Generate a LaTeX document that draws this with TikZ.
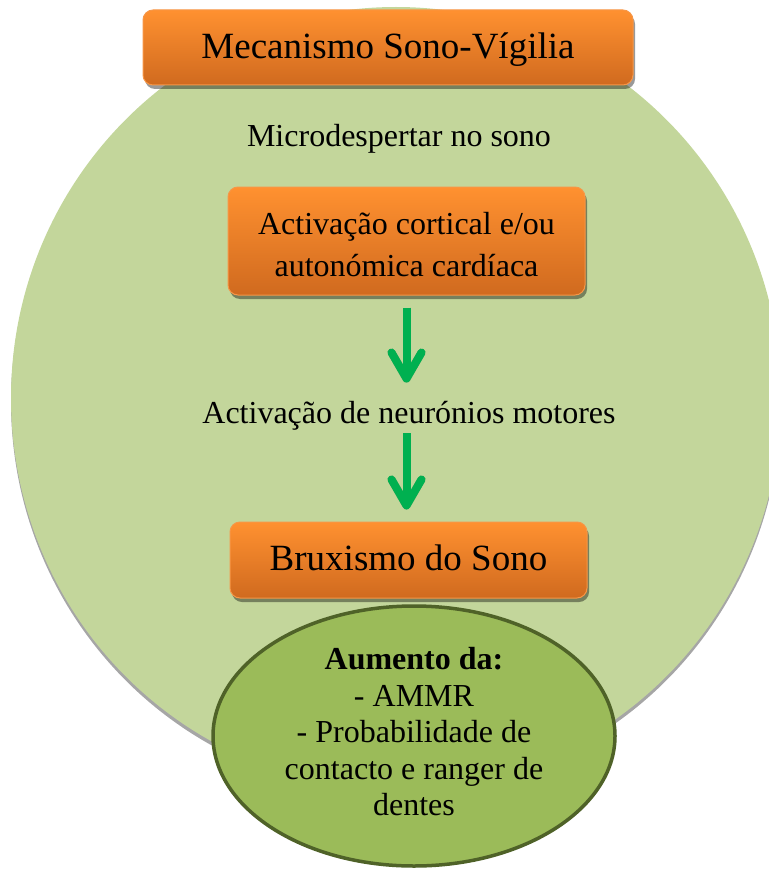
\documentclass[tikz,border=0pt]{standalone}
\usepackage{fontspec}
\setmainfont{Liberation Serif}
\usetikzlibrary{shapes.geometric,arrows.meta,shadows}
\definecolor{bgg}{HTML}{C3D69B}
\definecolor{ellf}{HTML}{9BBB59}
\definecolor{elld}{HTML}{4F6228}
\definecolor{otop}{RGB}{255,145,48}
\definecolor{obot}{RGB}{208,106,31}
\definecolor{oline}{HTML}{F79646}
\definecolor{arg}{HTML}{00B050}
\begin{document}
\begin{tikzpicture}[x=1pt,y=-1pt,
  obox/.style={draw=oline, line width=1pt, rounded corners=10pt, top color=otop, bottom color=obot,
    inner sep=0pt, align=center,
    drop shadow={shadow xshift=2pt, shadow yshift=-4pt, opacity=0.4, fill=black}},
  bigtxt/.style={font=\fontsize{37}{44}\selectfont, text height=27.75pt, text depth=6.66pt},
  lbl/.style={inner sep=0pt, font=\fontsize{32}{38}\selectfont},
  flow/.style={draw=arg, line width=8pt, -{Straight Barb[length=26pt,width=30pt,round]}},
  flowshadow/.style={flow, draw=black, opacity=0.2, xshift=1.5pt, yshift=-2.5pt},
]
\useasboundingbox (0,0) rectangle (768,869);
\node[ellipse, fill=bgg, minimum width=770pt, minimum height=782pt, inner sep=0pt,
  drop shadow={shadow xshift=0pt, shadow yshift=-4pt, opacity=1, fill=black!35}] (bg) at (396,398) {};
\node[obox, bigtxt, minimum width=490pt, minimum height=75pt] (b1) at (388,47.5) {Mecanismo Sono-Vígilia};
\node[lbl, anchor=base] (t1) at (399,147) {Microdespertar no sono};
\node[obox, minimum width=357pt, minimum height=108pt, font=\fontsize{32}{42}\selectfont] (b2) at (406.5,241)
  {\rule{0pt}{30pt}Activação cortical e/ou\\autonómica cardíaca};
\node[lbl, anchor=base] (t2) at (409,423) {Activação de neurónios motores};
\node[obox, bigtxt, minimum width=357pt, minimum height=76pt] (b3) at (408.5,560) {Bruxismo do Sono};
\node[ellipse, draw=elld, line width=3.5pt, fill=ellf, minimum width=402pt, minimum height=260pt, inner sep=0pt]
  (res) at (414,736) {};
\node[align=center, inner sep=0pt, font=\fontsize{32}{36.5}\selectfont] (restext) at (414,732)
  {\textbf{Aumento da:}\\- AMMR\\- Probabilidade de\\contacto e ranger de\\dentes};
\draw[flowshadow, shorten <=12pt, shorten >=18pt] (b2.south) -- (b2.south |- t2.north);
\draw[flow, shorten <=12pt, shorten >=18pt] (b2.south) -- (b2.south |- t2.north);
\draw[flowshadow, shorten <=3pt, shorten >=12pt] (t2.south -| b2.south) -- (b3.north -| b2.south);
\draw[flow, shorten <=3pt, shorten >=12pt] (t2.south -| b2.south) -- (b3.north -| b2.south);
\end{tikzpicture}
\end{document}
